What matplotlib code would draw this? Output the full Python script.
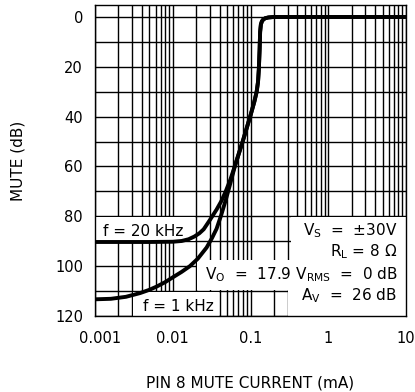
import matplotlib
matplotlib.use("Agg")
import matplotlib.pyplot as plt
from matplotlib.ticker import FixedLocator, LogLocator, MultipleLocator, NullFormatter
from matplotlib.transforms import ScaledTranslation


# ---------------------------------------------------------------------------
# Valores (corrente em mA, mute em dB)
# ---------------------------------------------------------------------------
# trecho so da curva f = 20 kHz
corrente_20k = [0.001, 0.005, 0.01, 0.013, 0.016, 0.019, 0.022, 0.025,
                0.03, 0.0366, 0.042, 0.048, 0.055]
mute_20k = [90.3, 90.3, 90.2, 89.9, 89.2, 88.1, 86.8, 85.2,
            81.5, 77.3, 74.0, 70.0, 65.3]

# trecho so da curva f = 1 kHz
corrente_1k = [0.001, 0.0016, 0.0025, 0.0038, 0.005, 0.0062, 0.008, 0.01,
               0.013, 0.0166, 0.021, 0.0273, 0.032, 0.0366, 0.042, 0.048,
               0.055]
mute_1k = [113.3, 113.1, 112.3, 110.8, 109.5, 108.2, 106.4, 104.5,
           102.3, 100.0, 97.0, 92.5, 88.7, 85.0, 79.5, 73.5,
           66.8]

# trecho comum as duas curvas (subida ate 0 dB)
corrente_comum = [0.063, 0.08, 0.1, 0.112, 0.12, 0.125, 0.128, 0.131,
                  0.133, 0.136, 0.14, 0.146, 0.155, 0.17, 0.2, 10]
mute_comum = [59.8, 49.6, 39.5, 34.0, 30.0, 26.0, 21.0, 13.0,
              6.0, 3.0, 1.8, 1.0, 0.5, 0.2, 0.0, 0.0]

ticks_x = [0.001, 0.01, 0.1, 1, 10]
rotulos_x = ["0.001", "0.01", "0.1", "1", "10"]
ticks_y = [0, 20, 40, 60, 80, 100, 120]


def caixa(ax, cantos):
    # area branca (sem borda) atras dos textos; cantos em coordenadas de dados
    xs = [c[0] for c in cantos]
    ys = [c[1] for c in cantos]
    ax.fill(xs, ys, color="white", lw=0, zorder=1)


fig = plt.figure(figsize=(4.15, 3.92), dpi=100)
ax = fig.add_axes([95 / 415, 76 / 392, 311 / 415, 311 / 392])

ax.set_xscale("log")
ax.set_xlim(0.001, 10)
ax.set_ylim(120, -4.8)

ax.xaxis.set_major_locator(FixedLocator(ticks_x))
ax.set_xticks(ticks_x, rotulos_x)
ax.xaxis.set_minor_locator(LogLocator(base=10, subs=range(2, 10)))
ax.xaxis.set_minor_formatter(NullFormatter())
ax.set_yticks(ticks_y)
ax.yaxis.set_minor_locator(MultipleLocator(10))

ax.grid(which="both", color="black", linewidth=1.0)
ax.set_axisbelow(True)
ax.tick_params(which="both", length=0)
ax.tick_params(axis="x", labelsize=10.5, pad=10.5)
ax.tick_params(axis="y", labelsize=10.5, pad=8.6)
for s in ax.spines.values():
    s.set_linewidth(1.0)

# "0.001" fica um pouco deslocado para a direita no original
lbl = ax.xaxis.get_major_ticks()[0].label1
lbl.set_transform(lbl.get_transform() + ScaledTranslation(5 / 100, 0, fig.dpi_scale_trans))

# areas brancas atras dos textos (pequeno recuo para a grade seguir visivel)
caixa(ax, [(0.001, 80.35), (0.0196, 80.35), (0.0196, 90), (0.001, 90)])
caixa(ax, [(0.00306, 110.35), (0.0392, 110.35), (0.0392, 120), (0.00306, 120)])
caixa(ax, [(0.33, 80.35), (10, 80.35), (10, 120), (0.306, 120),
           (0.306, 109.65), (0.0204, 109.65), (0.0204, 97.6), (0.33, 97.6)])

ax.plot(corrente_20k + corrente_comum, mute_20k + mute_comum,
        color="black", lw=2.8, solid_joinstyle="round", zorder=3)
ax.plot(corrente_1k + corrente_comum, mute_1k + mute_comum,
        color="black", lw=2.8, solid_joinstyle="round", zorder=3)

fs = 11
ax.text(0.00127, 87.9, "f = 20 kHz", fontsize=fs, va="baseline", zorder=4)
ax.text(0.00414, 117.9, "f = 1 kHz", fontsize=fs, va="baseline", zorder=4)
ax.text(7.7, 87.6, r"V$_\mathregular{S}$  =  ±30V", fontsize=fs,
        ha="right", va="baseline", zorder=4)
ax.text(7.7, 96.0, r"R$_\mathregular{L}$ = 8 Ω", fontsize=fs,
        ha="right", va="baseline", zorder=4)
ax.text(7.7, 105.2, r"V$_\mathregular{O}$  =  17.9 V$_\mathregular{RMS}$  =  0 dB",
        fontsize=fs, ha="right", va="baseline", zorder=4)
ax.text(7.7, 113.5, r"A$_\mathregular{V}$  =  26 dB", fontsize=fs,
        ha="right", va="baseline", zorder=4)

ax.set_ylabel("MUTE (dB)", fontsize=11)
ax.yaxis.set_label_coords(-0.225, 0.5)
ax.set_xlabel("PIN 8 MUTE CURRENT (mA)", fontsize=11)
ax.xaxis.set_label_coords(0.5, -0.19)

fig.savefig("out.png", dpi=100)
